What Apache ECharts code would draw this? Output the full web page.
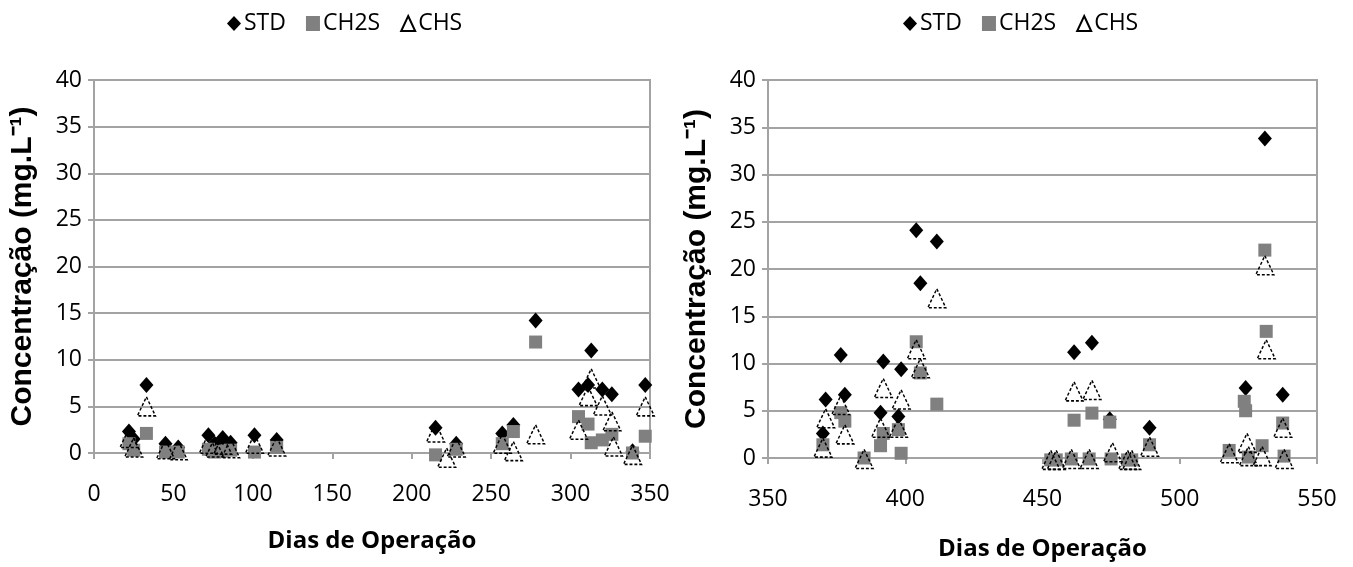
<!DOCTYPE html>
<html>
<head>
<meta charset="utf-8">
<title>Concentração x Dias de Operação</title>
<script src="https://cdn.jsdelivr.net/npm/echarts@6/dist/echarts.min.js"></script>
<style>
  html, body { margin: 0; padding: 0; background: #fff; }
  #chart { width: 1353px; height: 567px; }
</style>
</head>
<body>
<div id="chart"></div>
<script>
// Period 1 (days 0-350)
const p1StdDays  = [22, 25, 33, 45, 53, 72, 76, 81, 86, 101, 115, 215, 228, 257, 264, 278, 305, 311, 313, 320, 326, 339, 347];
const p1StdVals  = [2.3, 1.5, 7.3, 1.0, 0.6, 1.9, 1.0, 1.6, 1.1, 1.9, 1.4, 2.7, 1.0, 2.1, 3.0, 14.2, 6.8, 7.3, 11.0, 6.8, 6.3, 0.2, 7.3];
const p1Ch2sDays = [22, 25, 33, 45, 53, 72, 76, 81, 86, 101, 115, 215, 228, 257, 264, 278, 305, 311, 313, 320, 326, 339, 347];
const p1Ch2sVals = [1.0, 0.3, 2.1, 0.1, 0.1, 0.4, 0.1, 0.2, 0.3, 0.1, 0.6, -0.2, 0.4, 1.0, 2.3, 11.9, 3.9, 3.1, 1.1, 1.4, 2.0, 0.0, 1.8];
const p1ChsDays  = [22, 25, 33, 45, 53, 72, 76, 81, 86, 101, 115, 215, 222, 228, 257, 264, 278, 305, 311, 313, 320, 326, 327, 339, 347];
const p1ChsVals  = [1.6, 0.6, 5.0, 0.4, 0.3, 1.0, 0.6, 0.9, 0.5, 1.0, 0.7, 2.2, -0.5, 0.6, 1.0, 0.2, 2.0, 2.5, 6.1, 8.0, 5.1, 3.4, 0.7, -0.2, 5.0];

// Period 2 (days 350-550)
const p2StdDays  = [370, 371, 376.5, 378, 391, 392, 397.5, 398.5, 404, 405.5, 411.5, 461.5, 468, 474.5, 489, 524, 531, 537.5];
const p2StdVals  = [2.6, 6.2, 10.9, 6.7, 4.8, 10.2, 4.4, 9.4, 24.1, 18.5, 22.9, 11.2, 12.2, 4.1, 3.2, 7.4, 33.8, 6.7];
const p2Ch2sDays = [370, 376.5, 378, 385, 391, 392, 397.5, 398.5, 404, 405.5, 411.5, 453, 455, 460.5, 461.5, 467, 468, 474.5, 475, 481, 482.5, 489, 518, 523.5, 524, 525, 530, 531, 531.5, 537.5, 538];
const p2Ch2sVals = [1.4, 4.8, 3.9, 0.0, 1.3, 2.6, 3.0, 0.5, 12.3, 9.0, 5.7, -0.2, -0.2, -0.1, 4.0, -0.1, 4.75, 3.8, -0.1, -0.2, -0.2, 1.4, 0.8, 6.0, 5.0, 0.1, 1.3, 22.0, 13.4, 3.7, 0.2];
const p2ChsDays  = [370, 371, 376.5, 378, 385, 391, 392, 397.5, 398.5, 404, 405.5, 411.5, 453, 455, 460.5, 461.5, 467, 468, 475.5, 481, 482.5, 489, 518, 524.5, 525, 530, 531, 531.5, 537.5, 538];
const p2ChsVals  = [1.1, 4.2, 5.6, 2.5, -0.1, 3.2, 7.4, 3.2, 6.2, 11.5, 9.5, 16.9, -0.2, -0.2, -0.1, 7.05, -0.1, 7.2, 0.6, -0.2, -0.2, 1.2, 0.5, 1.6, 0.2, 0.2, 20.4, 11.5, 3.2, -0.1];

const seriesNames = ['STD', 'CH2S', 'CHS'];
const xTitle = 'Dias de Operação';
const yTitle = 'Concentração (mg.L⁻¹)';

const pairs = (xs, ys) => xs.map((x, i) => [x, ys[i]]);

const FONT = '"Open Sans", sans-serif';
const GRID_GRAY = '#a3a3a3';

const markerStyles = {
  STD:  { symbol: 'diamond', symbolSize: [14, 16], itemStyle: { color: '#000000', opacity: 1 } },
  CH2S: { symbol: 'rect', symbolSize: 13, itemStyle: { color: '#808080', opacity: 1 } },
  CHS:  { symbol: 'triangle', symbolSize: [18, 19],
          itemStyle: { color: 'rgba(255,255,255,0)', opacity: 1, borderColor: '#000000', borderWidth: 1.5, borderType: [3, 2] } }
};

function makeSeries(name, idx, data) {
  const s = markerStyles[name];
  return {
    name: name, type: 'scatter', xAxisIndex: idx, yAxisIndex: idx,
    symbol: s.symbol, symbolSize: s.symbolSize, itemStyle: s.itemStyle,
    clip: false, data: data, z: 2 + seriesNames.indexOf(name),
    emphasis: { disabled: true }
  };
}

function xAxisFor(idx, min, max, nameGap) {
  return {
    type: 'value', gridIndex: idx, min: min, max: max, interval: 50,
    name: xTitle, nameLocation: 'middle', nameGap: nameGap,
    nameTextStyle: { fontFamily: FONT, fontWeight: 'bold', fontSize: 24, color: '#000' },
    axisLine: { show: true, onZero: false, lineStyle: { color: GRID_GRAY, width: 2 } },
    axisTick: { show: true, inside: false, length: 6, lineStyle: { color: GRID_GRAY, width: 2 } },
    axisLabel: { fontFamily: FONT, fontSize: 23, color: '#000', margin: 30 },
    splitLine: { show: false }
  };
}

function yAxisFor(idx) {
  return {
    type: 'value', gridIndex: idx, min: 0, max: 40, interval: 5,
    name: yTitle, nameLocation: 'middle', nameGap: 56,
    nameTextStyle: { fontFamily: '"Liberation Sans", sans-serif', fontWeight: 'bold', fontSize: 30, color: '#000' },
    axisLine: { show: true, lineStyle: { color: GRID_GRAY, width: 2 } },
    axisTick: { show: true, inside: false, length: 6, lineStyle: { color: GRID_GRAY, width: 2 } },
    axisLabel: { fontFamily: FONT, fontSize: 23, color: '#000', margin: 12 },
    splitLine: { show: true, lineStyle: { color: GRID_GRAY, width: 2 } }
  };
}

function legendAt(left) {
  return {
    data: seriesNames.map(n => ({ name: n })),
    left: left, top: 7, itemWidth: 14, itemHeight: 15, itemGap: 20,
    selectedMode: false,
    textStyle: { fontFamily: FONT, fontSize: 23, color: '#000', padding: [0, 0, 0, -2] }
  };
}

const chart = echarts.init(document.getElementById('chart'), null, { renderer: 'canvas' });
chart.setOption({
  animation: false,
  backgroundColor: '#ffffff',
  legend: [legendAt(222), legendAt(898)],
  grid: [
    { left: 94, right: 703, top: 80, bottom: 114, show: true, borderColor: GRID_GRAY, borderWidth: 2, backgroundColor: 'transparent' },
    { left: 768, right: 36, top: 80, bottom: 109, show: true, borderColor: GRID_GRAY, borderWidth: 2, backgroundColor: 'transparent' }
  ],
  xAxis: [xAxisFor(0, 0, 350, 76), xAxisFor(1, 350, 550, 79)],
  yAxis: [yAxisFor(0), yAxisFor(1)],
  series: [
    makeSeries('STD', 0, pairs(p1StdDays, p1StdVals)),
    makeSeries('CH2S', 0, pairs(p1Ch2sDays, p1Ch2sVals)),
    makeSeries('CHS', 0, pairs(p1ChsDays, p1ChsVals)),
    makeSeries('STD', 1, pairs(p2StdDays, p2StdVals)),
    makeSeries('CH2S', 1, pairs(p2Ch2sDays, p2Ch2sVals)),
    makeSeries('CHS', 1, pairs(p2ChsDays, p2ChsVals))
  ]
});
</script>
</body>
</html>
